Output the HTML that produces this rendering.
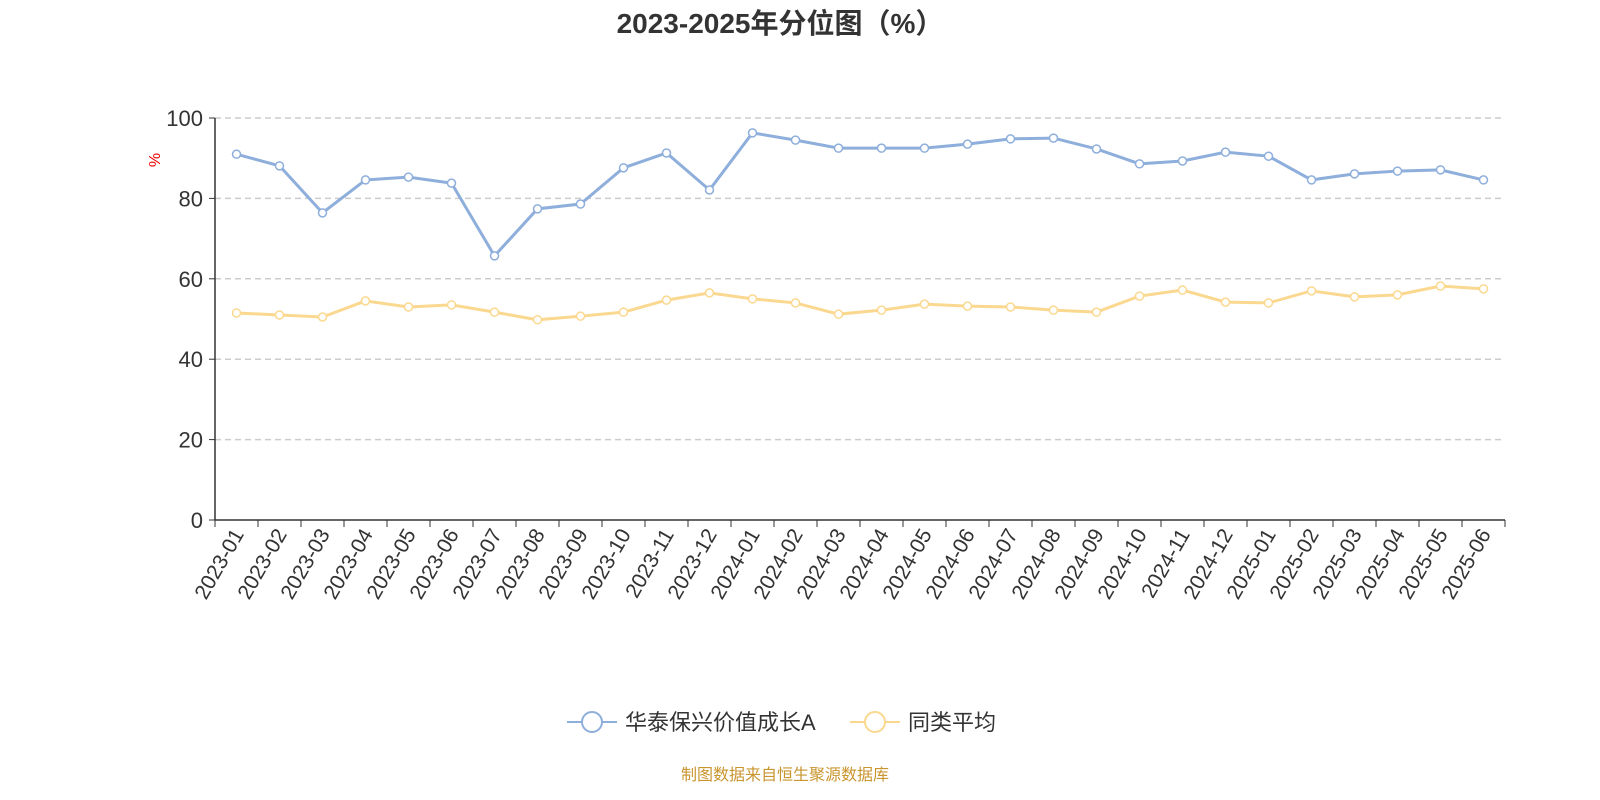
<!DOCTYPE html>
<html><head><meta charset="utf-8"><style>
html,body{margin:0;padding:0;background:#fff;overflow:hidden;width:1600px;height:800px;}
svg{display:block;}
svg text{font-family:"Liberation Sans","Noto Sans CJK SC",sans-serif;}
</style></head><body>
<svg id="c" width="1600" height="800" xmlns="http://www.w3.org/2000/svg">
<text x="780" y="33" text-anchor="middle" font-size="28" font-weight="bold" fill="#333">2023-2025年分位图（%）</text>
<text x="0" y="0" transform="translate(160,160) rotate(-90)" text-anchor="middle" font-size="16" fill="#e00">%</text>
<g id="grid"></g><g id="axes"></g><g id="series"></g>
<g>
<g>
<line x1="567" y1="722" x2="617" y2="722" stroke="#8eaedb" stroke-width="2"/>
<circle cx="592" cy="722" r="10" fill="#fff" stroke="#8eaedb" stroke-width="2"/>
<text x="625" y="730" font-size="22" fill="#333">华泰保兴价值成长A</text></g>
<g>
<line x1="850" y1="722" x2="900" y2="722" stroke="#fbd88f" stroke-width="2"/>
<circle cx="875" cy="722" r="10" fill="#fff" stroke="#fbd88f" stroke-width="2"/>
<text x="908" y="730" font-size="22" fill="#333">同类平均</text></g>
</g>
<text x="785" y="780" text-anchor="middle" font-size="16" fill="#c9952e">制图数据来自恒生聚源数据库</text>
</svg>
<script>
const categories=["2023-01","2023-02","2023-03","2023-04","2023-05","2023-06","2023-07","2023-08","2023-09","2023-10","2023-11","2023-12","2024-01","2024-02","2024-03","2024-04","2024-05","2024-06","2024-07","2024-08","2024-09","2024-10","2024-11","2024-12","2025-01","2025-02","2025-03","2025-04","2025-05","2025-06"];
const fundValues=[91.0,88.1,76.4,84.6,85.3,83.8,65.7,77.4,78.6,87.6,91.3,82.1,96.3,94.5,92.5,92.5,92.5,93.5,94.8,95.0,92.3,88.6,89.3,91.5,90.5,84.6,86.1,86.8,87.1,84.6];
const avgValues=[51.5,51.0,50.5,54.5,53.0,53.5,51.7,49.8,50.7,51.7,54.7,56.5,55.0,54.0,51.2,52.2,53.7,53.2,53.0,52.2,51.7,55.7,57.2,54.2,54.0,57.0,55.5,56.0,58.2,57.5];
const yTicks=[0,20,40,60,80,100];
const NS="http://www.w3.org/2000/svg";
const L=215,R=1505,T=118,B=520;
const bw=(R-L)/categories.length;
const xs=i=>L+bw*(i+0.5);
const ys=v=>B-(v/100)*(B-T);
function mk(tag,attrs,parent,txt){const e=document.createElementNS(NS,tag);for(const k in attrs)e.setAttribute(k,attrs[k]);if(txt!==undefined)e.textContent=txt;parent.appendChild(e);return e;}
const grid=document.getElementById('grid'),axes=document.getElementById('axes'),ser=document.getElementById('series');
yTicks.forEach(t=>{
 if(t>0){const g=mk('line',{x1:L,x2:R,y1:ys(t),y2:ys(t),stroke:'#ccc','stroke-dasharray':'6,4','stroke-width':1.5},grid);
 
 }
 const tk=mk('line',{x1:L-6,x2:L,y1:ys(t),y2:ys(t),stroke:'#333'},axes);
 
 
 const lb=mk('text',{x:L-12,y:ys(t)+8,'text-anchor':'end','font-size':22,fill:'#333'},axes,t);
 
 
});
const ya=mk('line',{x1:L,x2:L,y1:T,y2:B,stroke:'#333','stroke-width':1.5},axes);


const xa=mk('line',{x1:L,x2:R,y1:B,y2:B,stroke:'#333','stroke-width':1.5},axes);


for(let i=0;i<=categories.length;i++){const t=mk('line',{x1:L+bw*i,x2:L+bw*i,y1:B,y2:B+7,stroke:'#333'},axes);
 
 }
categories.forEach((c,i)=>{const x=xs(i);
 const lb=mk('text',{x:0,y:0,transform:`translate(${x+8},${B+14}) rotate(-60)`,'text-anchor':'end','font-size':21,fill:'#333'},axes,c);
 
 });
function draw(vals,color,name){
 const p=mk('polyline',{points:vals.map((v,i)=>xs(i)+','+ys(v)).join(' '),fill:'none',stroke:color,'stroke-width':3},ser);
 
 
 vals.forEach((v,i)=>{const c=mk('circle',{cx:xs(i),cy:ys(v),r:4,fill:'#fff',stroke:color,'stroke-width':1.5},ser);
 
 });
}
draw(avgValues,'#fbd88f','average');
draw(fundValues,'#8eaedb','fund');
</script>
</body></html>
